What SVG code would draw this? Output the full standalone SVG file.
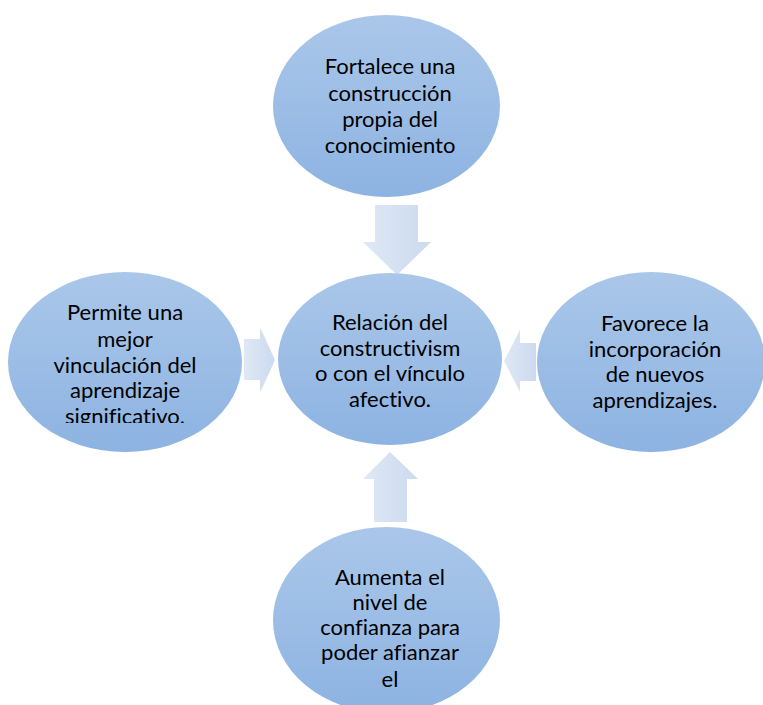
<svg xmlns="http://www.w3.org/2000/svg" width="763" height="705" viewBox="0 0 763 705">
<defs>
<linearGradient id="eg" x1="0" y1="0" x2="0" y2="1">
<stop offset="0" stop-color="#aac7e9"/>
<stop offset="1" stop-color="#8db3e2"/>
</linearGradient>
<linearGradient id="ah" x1="0" y1="0" x2="1" y2="0">
<stop offset="0" stop-color="#dfe8f5"/>
<stop offset="1" stop-color="#ccdaef"/>
</linearGradient>
<clipPath id="clipL"><rect x="0" y="0" width="260" height="423"/></clipPath>
</defs>
<style>
.node ellipse{fill:url(#eg);}
.node text{font-family:Lato,"Open Sans",sans-serif;font-size:22px;fill:#000;text-anchor:middle;font-variant-ligatures:none;}
.arr{fill:url(#ah);}
</style>
<rect width="763" height="705" fill="#fff"/>
<g id="connectors">
<path class="arr" d="M375,205 H418 V242 H431 L397,275 L363,242 H375 Z"/>
<path class="arr" d="M374,522 H407 V479 H418 L390,452 L363,479 H374 Z"/>
<path class="arr" d="M244,339 H260 V327 L275,360 L260,393 V380 H244 Z"/>
<path class="arr" d="M536,343 H520 V330 L504,361 L520,392 V381 H536 Z"/>
</g>
<g id="node-top" class="node">
<ellipse cx="386.5" cy="106" rx="113.5" ry="91"/>
<text x="390" y="74">Fortalece una</text>
<text x="390" y="101">construcción</text>
<text x="390" y="127">propia del</text>
<text x="390" y="153">conocimiento</text>
</g>
<g id="node-center" class="node">
<ellipse cx="390" cy="359" rx="112" ry="86"/>
<text x="390" y="330">Relación del</text>
<text x="390" y="356">constructivism</text>
<text x="390" y="381">o con el vínculo</text>
<text x="390" y="407">afectivo.</text>
</g>
<g id="node-left" class="node">
<ellipse cx="125" cy="362" rx="117" ry="90"/>
<g clip-path="url(#clipL)">
<text x="125" y="320">Permite una</text>
<text x="125" y="347">mejor</text>
<text x="125" y="373">vinculación del</text>
<text x="125" y="398">aprendizaje</text>
<text x="125" y="424">significativo.</text>
</g>
</g>
<g id="node-right" class="node">
<ellipse cx="651" cy="362" rx="114" ry="90"/>
<text x="655" y="331">Favorece la</text>
<text x="655" y="357">incorporación</text>
<text x="655" y="382">de nuevos</text>
<text x="655" y="408">aprendizajes.</text>
</g>
<g id="node-bottom" class="node">
<ellipse cx="386.5" cy="620" rx="113.5" ry="93"/>
<text x="390" y="585">Aumenta el</text>
<text x="390" y="610">nivel de</text>
<text x="390" y="635">confianza para</text>
<text x="390" y="660">poder afianzar</text>
<text x="390" y="687">el</text>
</g>
</svg>
